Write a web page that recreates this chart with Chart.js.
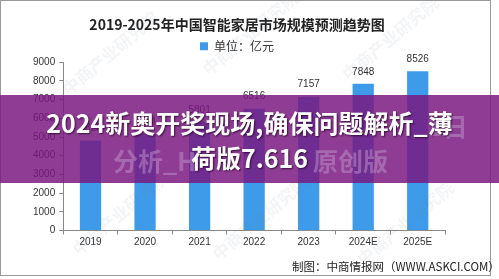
<!DOCTYPE html>
<html>
<head>
<meta charset="utf-8">
<script src="https://cdn.jsdelivr.net/npm/chart.js@4/dist/chart.umd.min.js"></script>
<style>
html,body{margin:0;padding:0;background:#fff;}
#wrap{position:relative;width:499px;height:279px;overflow:hidden;background:#fff;}
#c{position:absolute;left:0;top:0;}
#frame{position:absolute;left:0;top:0;width:491px;height:276px;border:1px solid #9a9a9a;box-sizing:border-box;pointer-events:none;}
.wm{position:absolute;font-family:"Noto Sans CJK SC";font-size:17px;font-weight:bold;color:rgba(120,130,150,0.09);transform:rotate(-40deg);white-space:nowrap;}
#foot{position:absolute;left:292px;top:258px;font-family:"Noto Sans CJK SC";font-size:11.5px;color:#222;white-space:nowrap;}
#band{position:absolute;left:0;top:95px;width:499px;height:88px;background:rgba(122,24,128,0.84);}
.ghost{position:absolute;font-family:"Noto Sans CJK SC";font-weight:bold;font-size:25px;color:rgba(190,150,205,0.5);white-space:nowrap;}
.cap{position:absolute;left:0;width:499px;text-align:center;font-family:"Noto Sans CJK SC";font-weight:bold;font-size:25px;color:#fff;white-space:nowrap;text-shadow:1px 1px 2px rgba(40,0,40,0.8);}
</style>
</head>
<body>
<div id="wrap">
<canvas id="c" width="499" height="279"></canvas>
<div id="frame"></div>
<div class="wm" style="left:50px;top:40px;">中商产业研究院</div>
<div class="wm" style="left:190px;top:20px;">中商产业研究院</div>
<div class="wm" style="left:330px;top:25px;">中商产业研究院</div>
<div class="wm" style="left:60px;top:200px;">中商产业研究院</div>
<div class="wm" style="left:200px;top:205px;">中商产业研究院</div>
<div class="wm" style="left:345px;top:210px;">中商产业研究院</div>
<div id="foot">制图：中商情报网（WWW.ASKCI.COM）</div>
<div id="band"></div>
<div class="ghost" style="left:113px;top:142px;">分析_H</div>
<div class="ghost" style="left:313px;top:142px;">原创版</div>
<div class="ghost" style="left:428px;top:107px;">1日</div>
<div class="cap" style="top:104px;">2024新奥开奖现场,确保问题解析_薄</div>
<div class="cap" style="top:139px;">荷版7.616</div>
</div>
<script>
const categories = ["2019","2020","2021","2022","2023","2024E","2025E"];
const marketSize = [4820, 5144, 5801, 6516, 7157, 7848, 8526];
const yTicks = [0,1000,2000,3000,4000,5000,6000,7000,8000,9000];
const chartTitle = "2019-2025年中国智能家居市场规模预测趋势图";
const seriesName = "单位：亿元";

const valueLabels = {
  id: "valueLabels",
  afterDatasetsDraw(chart) {
    const ctx = chart.ctx;
    const meta = chart.getDatasetMeta(0);
    ctx.save();
    ctx.font = "10px 'Liberation Sans'";
    ctx.fillStyle = "#333";
    ctx.textAlign = "center";
    ctx.textBaseline = "bottom";
    meta.data.forEach((bar, i) => {
      ctx.fillText(String(chart.data.datasets[0].data[i]), bar.x, bar.y - 7);
    });
    ctx.restore();
  }
};

new Chart(document.getElementById("c"), {
  type: "bar",
  data: {
    labels: categories,
    datasets: [{
      label: seriesName,
      data: marketSize,
      backgroundColor: "#3d9be9",
      barPercentage: 0.39,
      categoryPercentage: 1.0
    }]
  },
  options: {
    responsive: false,
    animation: false,
    layout: { padding: { left: 29, right: 54, top: 0, bottom: 28.5 } },
    plugins: {
      title: {
        display: true,
        text: chartTitle,
        color: "#222",
        font: { family: "'Noto Sans CJK SC'", size: 14, weight: "bold" },
        padding: { top: 16.5, bottom: 2 }
      },
      legend: {
        display: true,
        labels: {
          boxWidth: 8, boxHeight: 8, color: "#333",
          font: { family: "'Noto Sans CJK SC'", size: 12 },
          padding: 5
        }
      },
      tooltip: { enabled: false }
    },
    scales: {
      x: {
        grid: { display: true, drawOnChartArea: false, drawTicks: true, tickLength: 4, color: "#888" },
        border: { display: true, color: "#888" },
        ticks: { color: "#333", font: { family: "'Liberation Sans'", size: 10 }, padding: 2 }
      },
      y: {
        min: 0, max: 9000,
        afterBuildTicks(scale) { scale.ticks = yTicks.map(v => ({ value: v })); },
        grid: { display: true, drawOnChartArea: false, drawTicks: true, tickLength: 4, color: "#888" },
        border: { display: true, color: "#888" },
        ticks: { color: "#333", font: { family: "'Liberation Sans'", size: 10 }, padding: 4,
                 callback: (v) => String(v) }
      }
    }
  },
  plugins: [valueLabels]
});
</script>
</body>
</html>
